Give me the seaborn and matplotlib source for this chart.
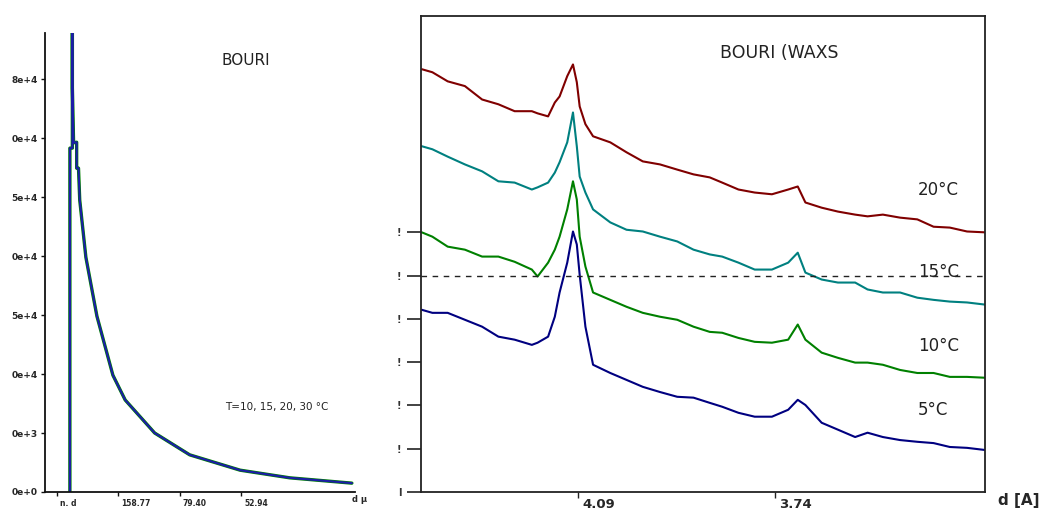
import numpy as np
import pandas as pd
import matplotlib
matplotlib.use("Agg")
import matplotlib.pyplot as plt
import matplotlib.transforms as mtransforms
import seaborn as sns

# ---------------- left panel (SAXS) ----------------
saxs_q = [0.21, 0.21, 0.25, 0.25, 0.25, 0.27, 0.32, 0.32, 0.35, 0.37, 0.47, 0.65,
          0.91, 1.11, 1.59, 2.16, 2.98, 3.79, 4.80]
saxs_I = [0.0, 5.83, 5.83, 8.2, 6.85, 5.92, 5.93, 5.49, 5.49, 4.95, 3.98, 2.98,
          1.98, 1.56, 1.00, 0.63, 0.37, 0.24, 0.15]
saxs_xticks = [0, 1, 2, 3]
saxs_xticklabels = ["n. d", "158.77", "79.40", "52.94"]
saxs_yticks = [0, 1, 2, 3, 4, 5, 6, 7]
saxs_yticklabels = ["0e+0", "0e+3", "0e+4", "5e+4", "0e+4", "5e+4", "0e+4", "8e+4"]

# ---------------- right panel (WAXS) ----------------
waxs_2theta = [20.08, 20.19, 20.35, 20.53, 20.71, 20.88, 21.05, 21.23, 21.29, 21.40,
               21.47, 21.52, 21.60, 21.66, 21.70, 21.73, 21.79, 21.87, 22.05, 22.22,
               22.39, 22.57, 22.75, 22.92, 23.09, 23.22, 23.39, 23.56, 23.74, 23.91,
               24.01, 24.09, 24.26, 24.43, 24.61, 24.74, 24.90, 25.08, 25.26, 25.43,
               25.60, 25.78, 25.97]
waxs_20C = [9.77, 9.70, 9.49, 9.38, 9.07, 8.96, 8.80, 8.80, 8.75, 8.68,
            9.00, 9.14, 9.61, 9.88, 9.47, 8.91, 8.50, 8.22, 8.08, 7.85,
            7.64, 7.57, 7.45, 7.34, 7.27, 7.15, 6.99, 6.92, 6.88, 6.99,
            7.06, 6.69, 6.57, 6.48, 6.41, 6.37, 6.41, 6.34, 6.30, 6.13,
            6.11, 6.02, 6.00]
waxs_15C = [7.99, 7.92, 7.75, 7.57, 7.41, 7.18, 7.15, 6.99, 7.04, 7.15,
            7.38, 7.62, 8.08, 8.77, 7.99, 7.29, 6.92, 6.53, 6.23, 6.06,
            6.02, 5.90, 5.79, 5.60, 5.49, 5.44, 5.30, 5.14, 5.14, 5.30,
            5.53, 5.07, 4.91, 4.84, 4.84, 4.68, 4.61, 4.61, 4.49, 4.44,
            4.40, 4.38, 4.33]
waxs_10C = [6.00, 5.90, 5.67, 5.60, 5.44, 5.44, 5.32, 5.14, 4.98, 5.30,
            5.60, 5.90, 6.53, 7.18, 6.76, 5.90, 5.21, 4.61, 4.44, 4.28,
            4.14, 4.05, 3.98, 3.82, 3.70, 3.68, 3.56, 3.47, 3.45, 3.52,
            3.87, 3.52, 3.22, 3.10, 2.99, 2.99, 2.94, 2.82, 2.75, 2.75,
            2.66, 2.66, 2.64]
waxs_5C = [4.21, 4.14, 4.14, 3.98, 3.82, 3.59, 3.52, 3.40, 3.45, 3.59,
           4.05, 4.61, 5.30, 6.02, 5.72, 5.02, 3.82, 2.94, 2.75, 2.59,
           2.43, 2.31, 2.20, 2.18, 2.06, 1.97, 1.83, 1.74, 1.74, 1.90,
           2.13, 2.01, 1.60, 1.44, 1.27, 1.37, 1.27, 1.20, 1.16, 1.13,
           1.04, 1.02, 0.97]
waxs_labels = ["5°C", "10°C", "15°C", "20°C"]
waxs_colors = ["#000080", "#008000", "#008080", "#800000"]
waxs_d_ticks = [4.09, 3.74]
waxs_yticks = [0, 1, 2, 3, 4, 5, 6]
waxs_yticklabels = ["I", "!", "!", "!", "!", "!", "!"]
wavelength = 1.5406

# ---------------- figure ----------------
sns.set_theme(style="white")
plt.rcParams["font.family"] = ["DejaVu Sans"]

fig = plt.figure(figsize=(10.47, 5.11), dpi=100)
axL = fig.add_axes([0.043, 0.0372, 0.296, 0.898])
axR = fig.add_axes([0.402, 0.0372, 0.539, 0.9315])

# left panel
dfL = pd.DataFrame({"q": saxs_q, "I": saxs_I})
sns.lineplot(data=dfL, x="q", y="I", ax=axL, estimator=None, sort=False,
             color="#008000", lw=2.4, legend=False)
sns.lineplot(data=dfL, x="q", y="I", ax=axL, estimator=None, sort=False,
             color="#1c1ca8", lw=1.5, legend=False)
axL.set_xlim(-0.195, 4.85)
axL.set_ylim(0, 7.78)
for s in ["top", "right"]:
    axL.spines[s].set_visible(False)
for s in ["left", "bottom"]:
    axL.spines[s].set_color("#111111")
    axL.spines[s].set_linewidth(1.3)
axL.set_xticks(saxs_xticks)
axL.set_xticklabels(saxs_xticklabels, fontsize=5.5, fontweight="bold")
axL.set_yticks(saxs_yticks)
axL.set_yticklabels(saxs_yticklabels, fontsize=6.5, fontweight="bold")
axL.tick_params(axis="both", direction="out", length=3, width=1, color="#111111",
                pad=2, left=True, bottom=True)
off = mtransforms.ScaledTranslation(2 / 72, 0, fig.dpi_scale_trans)
for lab in axL.get_xticklabels():
    lab.set_horizontalalignment("left")
    lab.set_transform(lab.get_transform() + off)
axL.set_xlabel("")
axL.set_ylabel("")
axL.text(0.57, 0.94, "BOURI", transform=axL.transAxes, fontsize=11,
         color="#222222", ha="left", va="center")
axL.text(0.58, 0.185, "T=10, 15, 20, 30 °C", transform=axL.transAxes, fontsize=7.5,
         color="#222222", ha="left", va="center")
fig.text(352 / 1047, 1 - 500 / 511, "d µ", fontsize=6, fontweight="bold",
         ha="left", va="center")

# right panel
frames = []
for lab, vals in zip(waxs_labels, [waxs_5C, waxs_10C, waxs_15C, waxs_20C]):
    frames.append(pd.DataFrame({"tt": waxs_2theta, "I": vals, "T": lab}))
dfR = pd.concat(frames, ignore_index=True)
sns.lineplot(data=dfR, x="tt", y="I", hue="T", hue_order=waxs_labels,
             palette=waxs_colors, ax=axR, estimator=None, sort=False,
             lw=1.5, legend=False)
axR.axhline(5, color="#222222", lw=1.0, ls=(0, (4, 4)))
axR.set_xlim(20.07, 25.97)
axR.set_ylim(0, 11.0)
for s in axR.spines.values():
    s.set_color("#222222")
    s.set_linewidth(1.3)
tick_tt = [2 * np.degrees(np.arcsin(wavelength / (2 * d))) for d in waxs_d_ticks]
axR.set_xticks(tick_tt)
axR.set_xticklabels([f"{d:.2f}" for d in waxs_d_ticks], fontsize=9.5, fontweight="bold")
axR.set_yticks(waxs_yticks)
axR.set_yticklabels(waxs_yticklabels, fontsize=7, fontweight="bold", color="#333333")
axR.tick_params(axis="x", direction="out", length=4, width=1, color="#222222", pad=0,
                bottom=True)
axR.tick_params(axis="y", direction="out", length=10, width=1.2, color="#222222", pad=4,
                left=True)
off2 = mtransforms.ScaledTranslation(3 / 72, 0, fig.dpi_scale_trans)
for lab in axR.get_xticklabels():
    lab.set_horizontalalignment("left")
    lab.set_transform(lab.get_transform() + off2)
axR.set_xlabel("")
axR.set_ylabel("")
axR.text(0.530, 0.922, "BOURI (WAXS", transform=axR.transAxes, fontsize=12.5,
         color="#222222", ha="left", va="center")
for txt, yf in zip(["20°C", "15°C", "10°C", "5°C"], [0.634, 0.462, 0.307, 0.172]):
    axR.text(0.881, yf, txt, transform=axR.transAxes, fontsize=12,
             color="#222222", ha="left", va="center")
fig.text(998 / 1047, 1 - 500 / 511, "d [A]", fontsize=11, fontweight="bold",
         ha="left", va="center")

fig.savefig("out.png", dpi=100)
